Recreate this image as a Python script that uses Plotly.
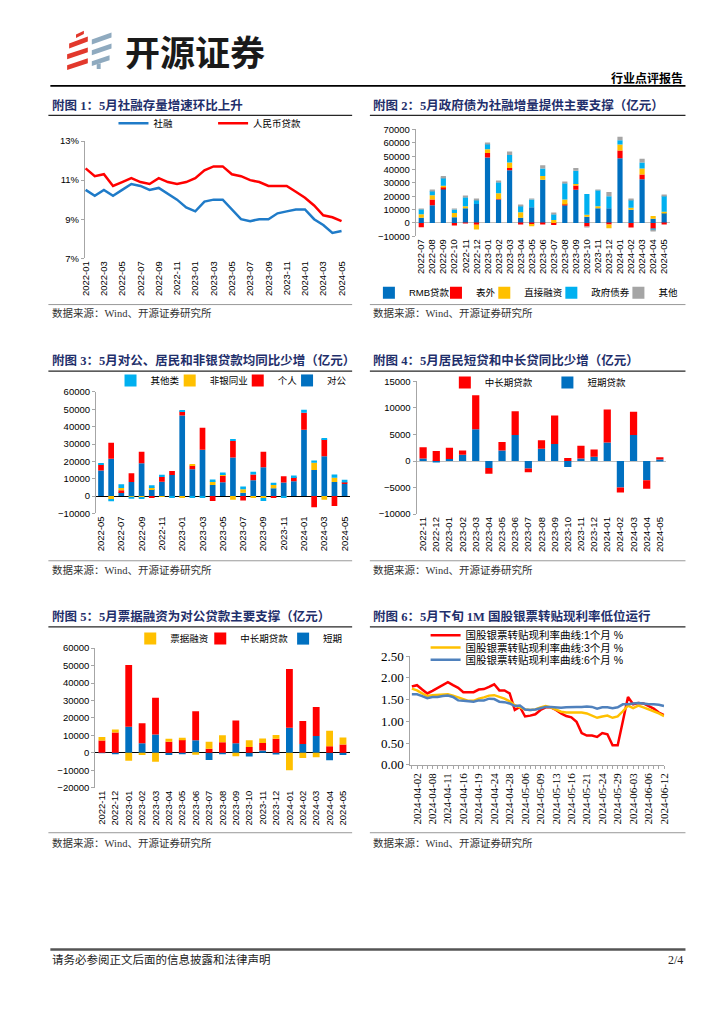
import plotly.graph_objects as go

W, H = 724, 1024
def fx(x): return x / W
def fy(y): return 1 - y / H

CJK = "Noto Sans CJK SC"
SANS = "Liberation Sans, Noto Sans CJK SC"
SERIF = "Liberation Serif, Noto Sans CJK SC"

BLUE = "#0070C0"; RED = "#FF0000"; GOLD = "#FFC000"; SKY = "#00B0F0"; GREY = "#A5A5A5"
LINE_BLUE = "#1F7BC8"; STEEL = "#4F81BD"
AX = "#A6A6A6"
TITLE_C = "#1F2F6B"

# ---------------- Chart 1 data ----------------
months1 = ["2022-01","2022-02","2022-03","2022-04","2022-05","2022-06","2022-07","2022-08","2022-09","2022-10","2022-11","2022-12",
           "2023-01","2023-02","2023-03","2023-04","2023-05","2023-06","2023-07","2023-08","2023-09","2023-10","2023-11","2023-12",
           "2024-01","2024-02","2024-03","2024-04","2024-05"]
tsf_growth = [10.5,10.2,10.5,10.2,10.5,10.8,10.7,10.5,10.6,10.3,10.0,9.6,9.4,9.9,10.0,10.0,9.5,9.0,8.9,9.0,9.0,9.3,9.4,9.5,9.5,9.0,8.7,8.3,8.4]
rmb_growth = [11.6,11.2,11.3,10.7,10.9,11.1,10.9,10.8,11.1,10.9,10.8,10.9,11.1,11.5,11.7,11.7,11.3,11.2,11.0,10.9,10.7,10.7,10.7,10.4,10.1,9.7,9.2,9.1,8.9]
ticks1 = ["2022-01","2022-03","2022-05","2022-07","2022-09","2022-11","2023-01","2023-03","2023-05","2023-07","2023-09","2023-11","2024-01","2024-03","2024-05"]

# ---------------- Chart 2 data ----------------
months2 = ["2022-07","2022-08","2022-09","2022-10","2022-11","2022-12","2023-01","2023-02","2023-03","2023-04","2023-05","2023-06",
           "2023-07","2023-08","2023-09","2023-10","2023-11","2023-12","2024-01","2024-02","2024-03","2024-04","2024-05"]
c2_rmb = [3900,13200,25700,4200,11000,14200,49100,17600,39400,3900,11700,32300,-300,13200,24900,4600,11000,11000,48400,9800,32800,3200,7600]
c2_offbs = [-3200,4400,1200,-2000,-300,-1300,3200,300,1700,-1200,-800,-800,-1200,700,3200,-2700,0,-1200,5900,-3400,3400,-4400,-700]
c2_direct = [2700,3200,1000,3200,1500,-3700,2900,4400,4200,4200,-1600,2900,2200,3700,1000,1500,1500,-2700,4400,1500,4600,2000,700]
c2_gov = [3700,3200,6100,2700,6800,2900,3900,8100,5600,4900,5900,5600,4400,12200,10000,15600,12000,9000,3200,6100,4400,-1200,12000]
c2_other = [500,700,1200,500,700,500,700,1000,2700,500,500,2400,700,1200,2000,-500,200,3200,2700,700,2900,-400,1000]

# ---------------- Chart 3 data ----------------
months3 = ["2022-05","2022-06","2022-07","2022-08","2022-09","2022-10","2022-11","2022-12","2023-01","2023-02","2023-03","2023-04",
           "2023-05","2023-06","2023-07","2023-08","2023-09","2023-10","2023-11","2023-12","2024-01","2024-02","2024-03","2024-04","2024-05"]
ticks3 = ["2022-05","2022-07","2022-09","2022-11","2023-01","2023-03","2023-05","2023-07","2023-09","2023-11","2024-01","2024-03","2024-05"]
c3_corp = [14800,21600,2300,8100,18900,4000,8300,12100,46400,15500,26700,6400,8000,22300,1900,9100,16700,4500,7800,8500,38300,15000,22900,8100,7000]
c3_hh = [3200,9100,1100,5100,6600,-500,2700,2300,2500,2100,12700,-2800,3800,9500,-2500,3400,8900,-700,3600,2500,9700,-6400,9800,-5700,800]
c3_nbfi = [300,-1700,1300,-300,-700,1100,-300,-200,-800,700,-200,2100,700,-2100,2100,-700,-1100,1900,-200,0,0,4200,-2100,2500,0]
c3_other = [700,-1300,2100,-1200,-700,1100,1300,-600,700,-500,-600,1100,1100,900,1500,1500,-1700,1300,-500,900,1700,1300,400,1900,1600]

# ---------------- Chart 4 / 5 data ----------------
months45 = ["2022-11","2022-12","2023-01","2023-02","2023-03","2023-04","2023-05","2023-06","2023-07","2023-08","2023-09","2023-10",
            "2023-11","2023-12","2024-01","2024-02","2024-03","2024-04","2024-05"]
c4_short = [500,-200,400,1200,6000,-1300,2000,4900,-1400,2300,3200,-1100,500,800,3500,-5000,4900,-3600,300]
c4_mlong = [2100,1900,2100,800,6400,-1100,1600,4500,-700,1600,5400,600,2400,1400,6200,-900,4400,-1600,400]
c5_short = [-200,-800,14900,5500,10500,-1300,-300,7200,-4100,-300,5500,-2100,1300,-900,14300,5100,9600,-4300,-1300]
c5_mlong = [7000,11700,35400,11500,21100,6400,7500,16600,2300,6000,13000,3400,4300,8100,33700,13200,16600,3800,4700]
c5_bill = [2000,1700,-4500,-1300,-5100,1700,1100,-1100,4100,4000,-1900,3800,2600,2100,-10000,-3000,-2600,8900,4100]

# ---------------- Chart 6 data ----------------
dates6 = ["2024-04-01","2024-04-02","2024-04-03","2024-04-07","2024-04-08","2024-04-09","2024-04-10","2024-04-11","2024-04-12",
          "2024-04-15","2024-04-16","2024-04-17","2024-04-18","2024-04-19","2024-04-22","2024-04-23","2024-04-24","2024-04-25",
          "2024-04-26","2024-04-28","2024-04-29","2024-04-30","2024-05-06","2024-05-07","2024-05-08","2024-05-09","2024-05-10",
          "2024-05-11","2024-05-13","2024-05-14","2024-05-15","2024-05-16","2024-05-17","2024-05-20","2024-05-21","2024-05-22",
          "2024-05-23","2024-05-24","2024-05-27","2024-05-28","2024-05-29","2024-05-30","2024-05-31","2024-06-03","2024-06-04",
          "2024-06-05","2024-06-06","2024-06-07","2024-06-11","2024-06-12"]
labels6 = ["2024-04-02","2024-04-08","2024-04-11","2024-04-16","2024-04-19","2024-04-24","2024-04-28","2024-05-06","2024-05-09",
           "2024-05-13","2024-05-16","2024-05-21","2024-05-24","2024-05-29","2024-06-03","2024-06-06","2024-06-12"]
rate_1m = [1.80,1.83,1.73,1.64,1.70,1.77,1.83,1.90,1.83,1.77,1.67,1.67,1.67,1.73,1.74,1.79,1.85,1.71,1.71,1.64,
           1.26,1.33,1.11,1.13,1.16,1.26,1.32,1.32,1.26,1.18,1.12,1.09,0.99,0.73,0.67,0.67,0.64,0.73,0.70,0.45,
           0.45,1.00,1.56,1.39,1.42,1.41,1.35,1.29,1.20,1.14]
rate_3m = [1.75,1.71,1.64,1.58,1.60,1.61,1.61,1.62,1.59,1.55,1.50,1.47,1.47,1.52,1.55,1.59,1.60,1.56,1.52,1.46,
           1.37,1.32,1.27,1.26,1.27,1.32,1.35,1.32,1.27,1.22,1.20,1.20,1.20,1.20,1.18,1.13,1.08,1.11,1.13,1.08,
           1.11,1.23,1.36,1.30,1.36,1.32,1.28,1.23,1.18,1.12]
rate_6m = [1.62,1.62,1.58,1.53,1.56,1.56,1.58,1.59,1.56,1.48,1.47,1.46,1.45,1.48,1.48,1.52,1.51,1.45,1.44,1.41,
           1.35,1.36,1.27,1.26,1.27,1.30,1.33,1.33,1.32,1.31,1.32,1.33,1.33,1.33,1.34,1.33,1.29,1.32,1.32,1.30,
           1.32,1.39,1.39,1.41,1.42,1.41,1.39,1.39,1.38,1.35]

fig = go.Figure()

def bar(x, y, name, color, ax, leg, width):
    fig.add_trace(go.Bar(x=x, y=y, name=name, marker=dict(color=color, line=dict(width=0)), showlegend=True,
                         width=width, xaxis="x" + ax, yaxis="y" + ax, legend=leg))

def line(x, y, name, color, ax, leg):
    fig.add_trace(go.Scatter(x=x, y=y, name=name, mode="lines", showlegend=True,
                             line=dict(color=color, width=2.5), xaxis="x" + ax, yaxis="y" + ax, legend=leg))

# Chart 1
line(months1, tsf_growth, "社融", LINE_BLUE, "", "legend")
line(months1, rmb_growth, "人民币贷款", RED, "", "legend2")
# Chart 2
bar(months2, c2_rmb, "RMB贷款", BLUE, "2", "legend3", 0.47)
bar(months2, c2_offbs, "表外", RED, "2", "legend4", 0.47)
bar(months2, c2_direct, "直接融资", GOLD, "2", "legend5", 0.47)
bar(months2, c2_gov, "政府债券", SKY, "2", "legend6", 0.47)
bar(months2, c2_other, "其他", GREY, "2", "legend7", 0.47)
# Chart 3
bar(months3, c3_corp, "对公", BLUE, "3", "legend11", 0.56)
bar(months3, c3_hh, "个人", RED, "3", "legend10", 0.56)
bar(months3, c3_nbfi, "非银同业", GOLD, "3", "legend9", 0.56)
bar(months3, c3_other, "其他类", SKY, "3", "legend8", 0.56)
# Chart 4
bar(months45, c4_short, "短期贷款", BLUE, "4", "legend13", 0.55)
bar(months45, c4_mlong, "中长期贷款", RED, "4", "legend12", 0.55)
# Chart 5
bar(months45, c5_short, "短期", BLUE, "5", "legend16", 0.51)
bar(months45, c5_mlong, "中长期贷款", RED, "5", "legend15", 0.51)
bar(months45, c5_bill, "票据融资", GOLD, "5", "legend14", 0.51)
# Chart 6
line(dates6, rate_1m, "国股银票转贴现利率曲线:1个月 %", RED, "6", "legend17")
line(dates6, rate_3m, "国股银票转贴现利率曲线:3个月 %", GOLD, "6", "legend18")
line(dates6, rate_6m, "国股银票转贴现利率曲线:6个月 %", STEEL, "6", "legend19")

tickf = dict(family="Liberation Sans", size=9.5, color="#000")

def xcat(x0, x1, anchor, cats, tickvals, rng):
    return dict(domain=[fx(x0), fx(x1)], anchor=anchor, type="category", categoryorder="array", categoryarray=cats,
                range=rng, tickmode="array", tickvals=tickvals, ticktext=tickvals, tickangle=-90, tickfont=tickf,
                showline=False, showgrid=False, zeroline=False, ticks="", fixedrange=True)

def yax(y0, y1, anchor, rng, dtick, zc=None, **kw):
    d = dict(domain=[fy(y1), fy(y0)], anchor=anchor, range=rng, dtick=dtick, tickfont=tickf, showline=True,
             linecolor=AX, linewidth=1, ticks="outside", ticklen=3, tickcolor=AX, showgrid=False,
             zeroline=zc is not None, zerolinecolor=zc or AX, zerolinewidth=1, tickformat="d", fixedrange=True)
    d.update(kw)
    return d

layout = dict(width=W, height=H, margin=dict(l=0, r=0, t=0, b=0), paper_bgcolor="white", plot_bgcolor="white",
              barmode="relative", hovermode=False, showlegend=True, font=dict(family=SANS, color="#000"))

layout["xaxis"] = xcat(81, 342, "y", months1, ticks1, [-0.08, 28.08])
layout["yaxis"] = yax(136, 255, "x", [7, 13], 2, tickvals=[7, 9, 11, 13], ticktext=["7%", "9%", "11%", "13%"],
                      tickmode="array")
layout["xaxis2"] = xcat(416.5, 674, "y2", months2, months2, [-0.5, 22.5])
layout["yaxis2"] = yax(124.3, 232.7, "x2", [-10000, 70000], 10000, zc="#BFBFBF")
layout["xaxis3"] = xcat(92.2, 349.5, "y3", months3, ticks3, [-0.5, 24.5])
layout["yaxis3"] = yax(390.7, 514, "x3", [-10000, 60000], 10000, zc="#000000")
layout["xaxis4"] = xcat(417.3, 670.7, "y4", months45, months45, [-0.5, 18.5])
layout["yaxis4"] = yax(380, 514.7, "x4", [-10000, 15000], 5000, zc="#BFBFBF")
layout["xaxis5"] = xcat(91.5, 349.5, "y5", months45, months45, [-0.5, 18.5])
layout["yaxis5"] = yax(650.7, 792.3, "x5", [-20000, 60000], 10000, zc="#000000")
x6 = xcat(411, 668.5, "y6", dates6, dates6, [-0.3, 49.05])
x6.update(ticktext=[d if d in labels6 else "" for d in dates6], ticks="outside", ticklen=3, tickcolor=AX,
          showline=True, linecolor=AX, tickfont=dict(family="Liberation Serif", size=11, color="#000"))
layout["xaxis6"] = x6
layout["yaxis6"] = yax(658.7, 769, "x6", [0, 2.5], 0.5, tickformat=".2f",
                       tickfont=dict(family="Liberation Serif", size=13, color="#000"))

# legends (one per series, positioned like the reference)
def leg(cx, cy, size=9.5, family=SANS):
    return dict(x=fx(cx - 20), y=fy(cy), xanchor="left", yanchor="middle", orientation="h",
                bgcolor="rgba(0,0,0,0)", borderwidth=0, font=dict(family=family, size=size, color="#000"))

legpos = {
    "legend": (130, 118, 9.5), "legend2": (231, 118, 9.5),
    "legend3": (389, 290, 9.5), "legend4": (457, 290, 9.5), "legend5": (506, 290, 9.5),
    "legend6": (574, 290, 9.5), "legend7": (642, 290, 9.5),
    "legend8": (127, 379, 9.5), "legend9": (187, 379, 9.5), "legend10": (256, 379, 9.5), "legend11": (306, 379, 9.5),
    "legend12": (466, 381, 9.5), "legend13": (570, 381, 9.5),
    "legend14": (147, 641, 9.5), "legend15": (218, 641, 9.5), "legend16": (302, 641, 9.5),
    "legend17": (446.5, 637.5, 10.5), "legend18": (446.5, 650, 10.5), "legend19": (446.5, 662.5, 10.5),
}
for k, (cx, cy, s) in legpos.items():
    layout[k] = leg(cx, cy, s)

fig.update_layout(**layout)

# ---------- page decorations ----------
ann = []
def text(x, y, s, size, color="#000", family=CJK, xanchor="left"):
    ann.append(dict(x=fx(x), y=fy(y), xref="paper", yref="paper", text=s, showarrow=False, xanchor=xanchor,
                    yanchor="middle", font=dict(family=family, size=size, color=color)))

text(120, 44, "<b>开源证券</b>", 35, "#1a1a1a")
text(690, 72, "<b>行业点评报告</b>", 12, "#000", xanchor="right")

titles = [
    (46, 100, "附图 1：5月社融存量增速环比上升"),
    (371, 100, "附图 2：5月政府债为社融增量提供主要支撑（亿元）"),
    (46, 358.5, "附图 3：5月对公、居民和非银贷款均同比少增（亿元）"),
    (371, 358.5, "附图 4：5月居民短贷和中长贷同比少增（亿元）"),
    (46, 618.5, "附图 5：5月票据融资为对公贷款主要支撑（亿元）"),
    (371, 618.5, "附图 6：5月下旬 1M 国股银票转贴现利率低位运行"),
]
for x, y, s in titles:
    text(x, y, "<b>" + s + "</b>", 12.5, TITLE_C, family=SERIF)

for x, y in [(46, 311), (371, 311), (46, 571), (371, 571), (46, 848), (371, 848)]:
    text(x, y, "数据来源：Wind、开源证券研究所", 10.5, "#333", family=SERIF)

text(46, 967, "请务必参阅正文后面的信息披露和法律声明", 11.5, "#222", family=SERIF)
text(690, 967, "2/4", 12, "#222", family="Liberation Serif", xanchor="right")

shapes = []
def hline(y, x0, x1, color, w):
    shapes.append(dict(type="line", xref="paper", yref="paper", x0=fx(x0), x1=fx(x1), y0=fy(y), y1=fy(y),
                       line=dict(color=color, width=w)))

hline(80, 46, 690, "#000", 1.6)
for y in (110, 369.5, 629):
    hline(y, 44, 352, "#262626", 1.2)
    hline(y, 370, 690, "#262626", 1.2)
for y in (302, 562, 838):
    hline(y, 44, 352, "#7F7F7F", 0.8)
    hline(y, 370, 690, "#7F7F7F", 0.8)
hline(956.5, 46, 690, "#555", 2.5)

def poly(pts, color):
    p = "M " + " L ".join(f"{fx(a)},{fy(b)}" for a, b in pts) + " Z"
    shapes.append(dict(type="path", xref="paper", yref="paper", path=p, fillcolor=color, line=dict(width=0)))

LR = "#E2382C"; LG = "#8FAABF"
poly([(72, 28), (80, 24), (80, 27.5), (72, 31.5)], LR)
poly([(65, 37), (84, 30), (84, 35), (65, 42)], LR)
poly([(63, 48), (84, 41), (84, 46), (63, 53)], LR)
poly([(63, 59), (84, 52), (84, 57), (63, 64)], LR)
poly([(88, 33), (108, 26), (108, 31), (88, 38)], LG)
poly([(88, 44), (108, 37), (108, 42), (88, 49)], LG)
poly([(88, 55), (106, 49), (106, 54), (88, 60)], LG)
poly([(93, 58), (97, 57), (97, 63), (93, 63)], LG)

fig.update_layout(annotations=ann, shapes=shapes)

fig.write_html("out.html", config={"displayModeBar": False},
               post_script="document.body.style.margin='0';document.body.style.padding='0';document.documentElement.style.overflow='hidden';")
